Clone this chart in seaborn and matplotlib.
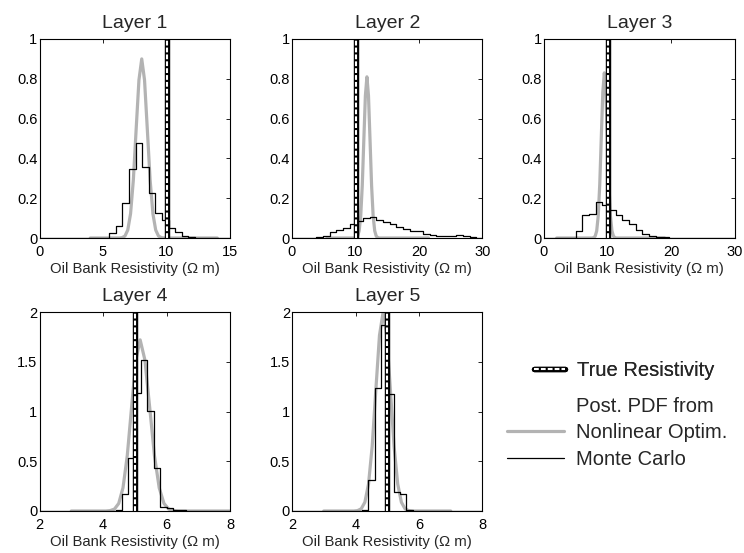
import matplotlib
matplotlib.use("Agg")
import matplotlib.pyplot as plt
from matplotlib.lines import Line2D
from matplotlib.ticker import FuncFormatter
import pandas as pd
import seaborn as sns

sns.set_style("white")
plt.rcParams['font.family'] = ['Liberation Sans', 'DejaVu Sans']

# ---------------- data ----------------
titles = ["Layer 1", "Layer 2", "Layer 3", "Layer 4", "Layer 5"]
true_res = [10, 10, 10, 5, 5]
xlims = [(0, 15), (0, 30), (0, 30), (2, 8), (2, 8)]
ylims = [(0, 1), (0, 1), (0, 1), (0, 2), (0, 2)]
xticks = [[0, 5, 10, 15], [0, 10, 20, 30], [0, 10, 20, 30], [2, 4, 6, 8], [2, 4, 6, 8]]
yticks = [[0, 0.2, 0.4, 0.6, 0.8, 1], [0, 0.2, 0.4, 0.6, 0.8, 1], [0, 0.2, 0.4, 0.6, 0.8, 1],
          [0, 0.5, 1, 1.5, 2], [0, 0.5, 1, 1.5, 2]]

# Monte Carlo histograms (bin edges and heights)
mc_edges1 = [0, 5.48, 6.0, 6.52, 7.04, 7.56, 8.08, 8.6, 9.12, 9.64, 10.16, 10.68, 11.2, 11.72, 12.24, 15]
mc_h1 = [0, 0.023, 0.062, 0.178, 0.348, 0.478, 0.357, 0.228, 0.124, 0.09, 0.052, 0.028, 0.01, 0.003, 0]
mc_edges2 = [0, 3.85, 4.9, 5.95, 7.0, 8.05, 9.1, 10.15, 11.2, 12.25, 13.3, 14.35, 15.4, 16.45, 17.5,
             18.55, 19.6, 20.65, 21.7, 22.75, 23.8, 24.85, 25.9, 26.95, 28.0, 29.05, 30]
mc_h2 = [0, 0.004, 0.012, 0.03, 0.042, 0.05, 0.07, 0.085, 0.103, 0.108, 0.09, 0.078, 0.068, 0.057,
         0.047, 0.035, 0.037, 0.022, 0.017, 0.012, 0.01, 0.012, 0.013, 0.011, 0.007, 0.002]
mc_edges3 = [0, 4.97, 6.02, 7.07, 8.12, 9.17, 10.22, 11.27, 12.32, 13.37, 14.42, 15.47, 16.52, 17.57,
             18.62, 19.67, 30]
mc_h3 = [0, 0.034, 0.116, 0.12, 0.18, 0.165, 0.14, 0.117, 0.092, 0.068, 0.042, 0.02, 0.01, 0.006, 0.004, 0]
mc_edges4 = [2, 4.4, 4.6, 4.8, 5.0, 5.2, 5.4, 5.6, 5.8, 6.0, 6.2, 6.4, 6.6, 8]
mc_h4 = [0, 0.015, 0.174, 0.535, 1.19, 1.52, 1.01, 0.43, 0.04, 0.027, 0.015, 0.006, 0]
mc_edges5 = [2, 4.2, 4.4, 4.6, 4.8, 5.0, 5.2, 5.4, 5.6, 5.8, 8]
mc_h5 = [0, 0.013, 0.31, 1.24, 1.87, 1.18, 0.19, 0.17, 0.013, 0]

# Posterior PDF from nonlinear optimisation
pdf_x1 = [4.0, 6.29, 6.51, 6.73, 6.95, 7.17, 7.39, 7.61, 7.83, 8.05, 8.27, 8.49, 8.71, 8.93, 9.15,
          9.37, 9.59, 9.81, 14.0]
pdf_y1 = [0, 0, 0.002, 0.01, 0.04, 0.122, 0.292, 0.546, 0.794, 0.9, 0.794, 0.546, 0.292, 0.122, 0.04,
          0.01, 0.002, 0, 0]
pdf_x2 = [5.5, 9.84, 10.085, 10.33, 10.575, 10.82, 11.065, 11.31, 11.555, 11.8, 12.045, 12.29, 12.535,
          12.78, 13.025, 13.27, 13.515, 13.76, 21.5]
pdf_y2 = [0, 0, 0.002, 0.009, 0.036, 0.11, 0.263, 0.491, 0.715, 0.81, 0.715, 0.491, 0.263, 0.11, 0.036,
          0.009, 0.002, 0, 0]
pdf_x3 = [2.0, 7.58, 7.82, 8.06, 8.30, 8.54, 8.78, 9.02, 9.26, 9.5, 9.74, 9.98, 10.22, 10.46, 10.7,
          10.94, 11.18, 11.42, 19.0]
pdf_y3 = [0, 0, 0.002, 0.009, 0.036, 0.112, 0.27, 0.503, 0.732, 0.83, 0.732, 0.503, 0.27, 0.112, 0.036,
          0.009, 0.002, 0, 0]
pdf_x4 = [3.0, 4.09, 4.225, 4.36, 4.495, 4.63, 4.765, 4.9, 5.035, 5.17, 5.32, 5.47, 5.62, 5.77, 5.92,
          6.07, 6.22, 6.37, 8.0]
pdf_y4 = [0, 0, 0.004, 0.019, 0.076, 0.233, 0.558, 1.043, 1.518, 1.72, 1.518, 1.043, 0.558, 0.233,
          0.076, 0.019, 0.004, 0, 0]
pdf_x5 = [3.0, 3.95, 4.065, 4.18, 4.295, 4.41, 4.525, 4.64, 4.755, 4.87, 4.985, 5.1, 5.215, 5.33, 5.445,
          5.56, 5.675, 5.79, 7.0]
pdf_y5 = [0, 0, 0.004, 0.022, 0.088, 0.271, 0.649, 1.213, 1.765, 2.0, 1.765, 1.213, 0.649, 0.271,
          0.088, 0.022, 0.004, 0, 0]

mc_edges = [mc_edges1, mc_edges2, mc_edges3, mc_edges4, mc_edges5]
mc_heights = [mc_h1, mc_h2, mc_h3, mc_h4, mc_h5]
pdf_xs = [pdf_x1, pdf_x2, pdf_x3, pdf_x4, pdf_x5]
pdf_ys = [pdf_y1, pdf_y2, pdf_y3, pdf_y4, pdf_y5]

# ---------------- figure ----------------
W, H = 744, 553
fig = plt.figure(figsize=(W / 100, H / 100), dpi=100)

ax_w, ax_h = 190.5 / W, 199 / H
lefts = [39.5 / W, 292 / W, 544 / W, 39.5 / W, 292 / W]
bottoms = [1 - 238 / H] * 3 + [1 - 511 / H] * 2

GREY = "#b3b3b3"
fmt = FuncFormatter(lambda v, p: "{:g}".format(v))

for i in range(5):
    ax = fig.add_axes([lefts[i], bottoms[i], ax_w, ax_h])
    # posterior PDF
    pdf_df = pd.DataFrame({"x": pdf_xs[i], "y": pdf_ys[i]})
    sns.lineplot(data=pdf_df, x="x", y="y", color=GREY, linewidth=2.3, ax=ax,
                 errorbar=None, sort=False, zorder=2)
    # Monte Carlo histogram
    edges = [float(e) for e in mc_edges[i]]
    centers = [(a + b) / 2 for a, b in zip(edges[:-1], edges[1:])]
    mc_df = pd.DataFrame({"x": centers, "w": mc_heights[i]})
    sns.histplot(data=mc_df, x="x", weights="w", bins=edges, element="step", fill=False,
                 color="black", linewidth=0.9, ax=ax, zorder=3)
    # true resistivity
    ax.axvline(true_res[i], color="black", linewidth=3.9, zorder=4)
    ax.axvline(true_res[i], color="white", linewidth=1.5, dashes=(2.3, 1.0), zorder=5)

    ax.set_xlim(*xlims[i])
    ax.set_ylim(*ylims[i])
    ax.set_xticks(xticks[i])
    ax.set_yticks(yticks[i])
    ax.xaxis.set_major_formatter(fmt)
    ax.yaxis.set_major_formatter(fmt)
    ax.set_ylabel("")
    ax.set_xlabel("Oil Bank Resistivity (\u03a9 m)", fontsize=10.7, labelpad=1.8)
    ax.set_title(titles[i], fontsize=14, pad=8)
    ax.tick_params(direction="in", length=3, width=0.6, top=True, right=True,
                   labelsize=10.5, colors="black")
    ax.tick_params(axis="x", pad=5.2)
    ax.tick_params(axis="y", pad=1.5)
    for s in ax.spines.values():
        s.set_visible(True)
        s.set_color("black")
        s.set_linewidth(0.8)
        s.set_zorder(6)

# ---------------- legends ----------------
h_true = (Line2D([], [], color="black", linewidth=3.9),
          Line2D([], [], color="white", linewidth=1.5, dashes=(2.3, 1.0)))
leg1 = fig.legend([h_true], ["True Resistivity"], loc="center left",
                  bbox_to_anchor=(534 / W, 1 - 371 / H), frameon=False, fontsize=14.5,
                  handlelength=1.55, handletextpad=0.6, borderpad=0, borderaxespad=0)
h_blank = Line2D([], [], color="none")
h_pdf = Line2D([], [], color=GREY, linewidth=2.3)
h_mc = Line2D([], [], color="black", linewidth=0.9)
leg2 = fig.legend([h_blank, h_pdf, h_mc], ["Post. PDF from", "Nonlinear Optim.", "Monte Carlo"],
                  loc="center left", bbox_to_anchor=(507 / W, 1 - 433 / H), frameon=False,
                  fontsize=14.5, handlelength=2.85, handletextpad=0.6, labelspacing=0.36,
                  borderpad=0, borderaxespad=0)
fig.add_artist(leg1)

fig.savefig("out.png", dpi=100)
